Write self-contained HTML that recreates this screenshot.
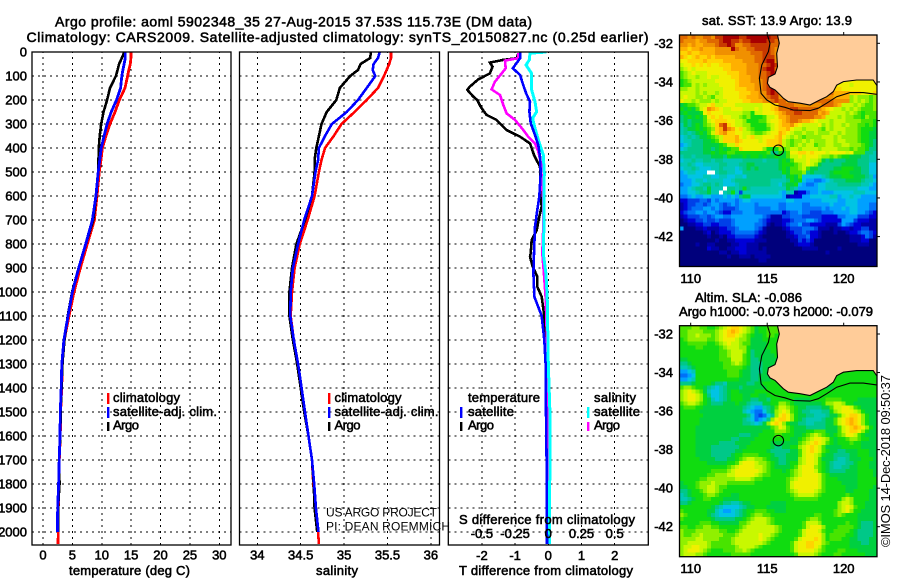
<!DOCTYPE html>
<html>
<head>
<meta charset="utf-8">
<title>Argo profile</title>
<style>
html,body{margin:0;padding:0;background:#fff;width:900px;height:580px;overflow:hidden}
svg{display:block}
text{font-family:"Liberation Sans",sans-serif;fill:#000;font-size:13px}
.t{stroke:#000;stroke-width:.55px;paint-order:stroke}
.thin{font-size:12px;stroke:none}
.line{fill:none;stroke-linejoin:miter;shape-rendering:crispEdges}
.frame{fill:none;stroke:#000;stroke-width:1.3}
.grid{stroke:#000;stroke-width:1;stroke-dasharray:2 4;shape-rendering:crispEdges}
</style>
</head>
<body>
<svg id="chart" xmlns="http://www.w3.org/2000/svg" width="900" height="580" viewBox="0 0 900 580">
<defs>
<clipPath id="c1"><rect x="32" y="52" width="199" height="493"/></clipPath>
<clipPath id="c2"><rect x="239.5" y="52" width="200" height="493"/></clipPath>
<clipPath id="c3"><rect x="448.3" y="52" width="200" height="493"/></clipPath>
<clipPath id="m1"><rect x="679.5" y="35" width="197.5" height="231.5"/></clipPath>
<clipPath id="m2"><rect x="679.5" y="325.7" width="197.5" height="231"/></clipPath>
</defs>
<g id="layer-maps"></g>
<g id="layer-grid"></g>
<g id="layer-lines"></g>
<g id="layer-ticks"></g>

<text class="t" x="55" y="26.5" style="font-size:14px" textLength="477" lengthAdjust="spacing">Argo profile: aoml 5902348_35 27-Aug-2015 37.53S 115.73E (DM data)</text>
<text class="t" x="26.5" y="42" style="font-size:14px" textLength="622" lengthAdjust="spacing">Climatology: CARS2009. Satellite-adjusted climatology: synTS_20150827.nc (0.25d earlier)</text>

<text class="t" x="69" y="575" textLength="121" lengthAdjust="spacing">temperature (deg C)</text>
<text class="t" x="316" y="575" textLength="42" lengthAdjust="spacing">salinity</text>
<text class="t" x="459" y="575" textLength="174" lengthAdjust="spacing">T difference from climatology</text>
<text class="t" x="459" y="524" textLength="176" lengthAdjust="spacing">S difference from climatology</text>

<g>
<rect x="107" y="393" width="2.4" height="11" fill="#f00"/>
<rect x="107" y="407" width="2.4" height="11" fill="#00f"/>
<rect x="107" y="422" width="2.4" height="9" fill="#000"/>
<text class="t" x="113" y="402" textLength="67" lengthAdjust="spacing">climatology</text>
<text class="t" x="113" y="416" textLength="104" lengthAdjust="spacing">satellite-adj. clim.</text>
<text class="t" x="113" y="429.5" textLength="26" lengthAdjust="spacing">Argo</text>
</g>
<g>
<rect x="328" y="393" width="2.4" height="11" fill="#f00"/>
<rect x="328" y="407" width="2.4" height="11" fill="#00f"/>
<rect x="328" y="422" width="2.4" height="9" fill="#000"/>
<text class="t" x="334.5" y="402" textLength="67" lengthAdjust="spacing">climatology</text>
<text class="t" x="334.5" y="416" textLength="104" lengthAdjust="spacing">satellite-adj. clim.</text>
<text class="t" x="334.5" y="429.5" textLength="26" lengthAdjust="spacing">Argo</text>
</g>
<g>
<text class="t" x="468" y="402" textLength="72" lengthAdjust="spacing">temperature</text>
<text class="t" x="594" y="402" textLength="42" lengthAdjust="spacing">salinity</text>
<rect x="460" y="407" width="2.4" height="11" fill="#00f"/>
<rect x="460" y="422" width="2.4" height="9" fill="#000"/>
<rect x="587" y="407" width="2.4" height="11" fill="#0ff"/>
<rect x="587" y="422" width="2.4" height="9" fill="#f0f"/>
<text class="t" x="468" y="416" textLength="46" lengthAdjust="spacing">satellite</text>
<text class="t" x="468" y="429.5" textLength="26" lengthAdjust="spacing">Argo</text>
<text class="t" x="594" y="416" textLength="46" lengthAdjust="spacing">satellite</text>
<text class="t" x="594" y="429.5" textLength="26" lengthAdjust="spacing">Argo</text>
</g>
<text class="thin" x="326" y="516.5" textLength="111" lengthAdjust="spacing">US ARGO PROJECT</text>
<text class="thin" x="326" y="530.5" textLength="124" lengthAdjust="spacing">PI: DEAN ROEMMICH</text>

<text class="t" x="702" y="25" textLength="150" lengthAdjust="spacing">sat. SST: 13.9 Argo: 13.9</text>
<text class="t" x="695" y="302" textLength="107" lengthAdjust="spacing">Altim. SLA: -0.086</text>
<text class="t" x="679" y="316" textLength="194" lengthAdjust="spacing">Argo h1000: -0.073 h2000: -0.079</text>
<text class="thin" style="font-size:13px" transform="translate(890,547) rotate(-90)" textLength="172" lengthAdjust="spacing">©IMOS 14-Dec-2018 09:50:37</text>
</svg>

<script>
// ---- profile data (depth in m) ----
const depthLevels = [0,25,50,75,100,150,200,250,300,350,400,450,500,600,700,800,900,1000,1100,1200,1300,1400,1500,1600,1700,1800,1900,2000,2050];
const tempClimatology = [14.97,14.95,14.85,14.6,14.4,13.95,13.0,12.25,11.4,10.7,10.1,9.87,9.58,9.19,8.74,7.54,6.35,5.27,4.42,3.63,3.29,3.18,3.0,2.95,2.78,2.72,2.61,2.6,2.55];
const tempSatellite = [14.0,14.0,13.8,13.6,13.4,13.2,12.5,11.6,10.9,10.4,9.9,9.65,9.4,9.0,8.4,7.26,6.07,5.0,4.25,3.55,3.2,3.1,2.95,2.9,2.75,2.65,2.5,2.45];
const tempArgo = [13.85,13.4,12.95,12.7,12.4,11.4,10.9,10.3,9.9,9.65,9.5,9.45,9.4,9.05,8.55,7.3,6.05,4.95,4.2,3.65,3.3,3.15,3.0,2.95,2.75,2.8,2.55,2.6];
const salClimatology = [35.54,35.54,35.52,35.49,35.46,35.39,35.26,35.12,34.97,34.88,34.78,34.74,34.71,34.66,34.58,34.49,34.43,34.40,34.385,34.42,34.47,34.5,34.54,34.59,34.63,34.645,34.67,34.70,34.71];
const salSatellite = [35.41,35.39,35.34,35.33,35.36,35.26,35.16,35.03,34.86,34.78,34.71,34.70,34.67,34.63,34.54,34.47,34.41,34.385,34.38,34.42,34.47,34.51,34.55,34.59,34.63,34.655,34.675,34.705];
const salArgo = [35.31,35.30,35.19,35.16,35.07,34.95,34.91,34.80,34.74,34.71,34.68,34.66,34.66,34.63,34.55,34.45,34.40,34.37,34.37,34.41,34.46,34.5,34.54,34.59,34.63,34.65,34.66,34.69];

// ---- difference panel data ----
const diffArgoDepth = [5,26,33,44,61,89,114,144,158,186,200,228,262,283,325,353,381,429,478,547,603,644,686,742,783,839,853,894,936,978,1020,1100,1200,1300,1500,2000];
const diffArgoT = [-0.90,-0.95,-1.36,-1.76,-1.68,-1.76,-2.11,-2.36,-2.44,-2.26,-2.14,-2.04,-1.86,-1.56,-1.26,-0.85,-0.55,-0.43,-0.25,-0.22,-0.23,-0.20,-0.27,-0.35,-0.50,-0.53,-0.55,-0.47,-0.33,-0.33,-0.20,-0.12,-0.10,-0.07,-0.05,-0.03];
const diffSatTDepth = [0,26,68,96,131,172,207,249,297,346,388,436,506,603,658,728,839,922,1020,1100,1200,1300,1500,1700,2050];
const diffSatT = [-0.85,-0.85,-1.07,-0.85,-0.77,-0.67,-0.55,-0.57,-0.53,-0.40,-0.30,-0.25,-0.23,-0.27,-0.33,-0.40,-0.43,-0.45,-0.42,-0.20,-0.12,-0.08,-0.07,-0.05,-0.04];
const diffArgoSDepth = [5,26,36,68,89,124,156,179,221,256,283,325,353,381,415,464,533,617,728,839,922,1020,1200,1500,2000];
const diffArgoS = [-0.226,-0.226,-0.326,-0.321,-0.351,-0.402,-0.427,-0.364,-0.339,-0.314,-0.251,-0.188,-0.151,-0.100,-0.075,-0.055,-0.05,-0.038,-0.038,-0.045,-0.033,-0.02,-0.01,-0.005,0];
const diffSatSDepth = [0,5,33,54,89,158,207,249,276,318,366,429,506,603,728,839,922,1020,1300,1500,1700,2000,2050];
const diffSatS = [-0.0125,-0.138,-0.143,-0.168,-0.126,-0.126,-0.10,-0.088,-0.118,-0.10,-0.075,-0.038,-0.03,-0.033,-0.033,-0.038,-0.018,-0.008,0,0.012,0.012,0.008,0.008];

// ---- tick labels ----
const depthTicks = [0,100,200,300,400,500,600,700,800,900,1000,1100,1200,1300,1400,1500,1600,1700,1800,1900,2000];
const tempTicks = [0,5,10,15,20,25,30];
const salTicks = [34,34.5,35,35.5,36];
const salTickLabels = ["34","34.5","35","35.5","36"];
const tDiffTicks = [-2,-1,0,1,2];
const sDiffTicks = [-0.5,-0.25,0,0.25,0.5];
const sDiffTickLabels = ["-0.5","-0.25","0","0.25","0.5"];
const lonTicks = [110,115,120];
const latTicks = [-32,-34,-36,-38,-40,-42];

// ---- coastline and float position (degrees) ----
const coastLon = [115.67,115.79,115.62,115.67,115.51,115.08,115.01,115.18,115.51,115.84,116.05,116.38,117.14,117.8,118.45,118.89,119.32,119.54,119.98,120.84,121.93,122.15,122.2];
const coastLat = [-31.57,-32.0,-32.52,-33.21,-33.59,-33.76,-34.07,-34.28,-34.41,-34.67,-34.84,-35.02,-35.1,-35.19,-34.93,-34.76,-34.5,-34.16,-33.98,-33.9,-33.9,-34.16,-34.16];
const shelfLon = [115.01,115.18,115.08,114.65,114.49,114.6,114.97,115.51,116.16,116.7,117.8,118.34,118.89,119.54,120.41,121.28,122.15];
const shelfLat = [-31.57,-32,-32.43,-33.12,-33.81,-34.59,-34.93,-35.19,-35.31,-35.45,-35.48,-35.36,-35.1,-34.76,-34.55,-34.55,-34.64];
const floatLon = 115.73;
const floatLat = -37.53;

// ---- map level grids: one base-36 colour level per cell, w is missing, | right-aligns the rest ----
const sstGrid = [
"iihihhiihjjkkkkjjkkkkkkjj|",
"ihhhghhiiijkkjjijjkkkkjji|",
"hhghgghhhijjkjhhiijjjjjii|",
"ggfgghggghhhhkihhiijjjjih|",
"ffgffgggghhhhhhhhhiiijjih|",
"gfefgffgfggggghhhhhiijjjh|",
"eeffffgffffggggghhhiijkkh|",
"deefefefeefffgggghhhiijkj|",
"cdedeeeeeeeffgggghhhijkki|",
"bcdedddeeeeefffgghhhiijkj|",
"bcddcddeddeeeffggghhiijkj|",
"abcddddddeeeeefggghhhijkj|geeeeeeeeee",
"abbdcdcdddeeeefgggghhijjh|gfeeedeeeeee",
"ccddcddddddeeefffgghhijkj|ggffeeeeeeeee",
"ddddcdcddcdeeeefffgghhjkjhhhhhhhhhhhhiiggggfffeeef",
"deddccdcbddeeeeffggghhijjhhiiiiiiiiihhhggggcdcccbc",
"eddcdcccdcddeeeeffggghhijiihhhiiiiiiiiihhhhcdcdcbc",
"9abbcddefddeeedddddddeeffiiiihhhhhhhiiihgdddcdcbbc",
"a9a9bdehgfeddeeedddedeefgiiijjiiiiihgfeddcdcdcbbbc",
"9a999aefeeedddddccaddeeefghiijjiiiighgddddcdcbabbb",
"89a9a9befefeeddcbcaaabddegghiiiiiihhgdddcdccbbacbb",
"898999bdefffeeddcaaabbdeefghiihggfedddcdddccccbbba",
"7989a9bcdfijfeddccaaaacdefgghfeddddecdcddcdccbbaba",
"7899a9abcfgjhgefdcbaaabdeffgeddcdddcbdcdddcccbaaa9",
"78789a9bdfghffeeddcbbcdeegfedccdccdcccddcdcccbaa99",
"6787899abcdfffgedefddeeefgedcdcbccccdddcdccccbaa99",
"67788899abdfffgfeeeedefffgdcbccdcdcccddcddcccbaa98",
"5678889999abddfeeeeeeefffgdcbcdcddbccddccddcccba98",
"6788889989a9abbfeeeeecaaacbcddcddddcddddcccbcbba88",
"88888899a9aabbaaaaaaaab88a9beeffefeeedeeeedebbb887",
"788788889998a999a9aa9a99a99bddedeeedccbcbaa9998877",
"67787788788777778888878889a9bdddeddc98988899988877",
"77876677778877788998888889aaabcdedc988888999988866",
"67787666778777678989888889a9bbcdb99888899aaa998866",
"5677666ww78877668888888888a9bbbc8988889aaaa9998866",
"5566667766776677688888888879a9b6666678999aaa999875",
"5556776777766788888888877778a9a65544567888999987766",
"45566788787666788888888776899a65445667778888887765",
"55678879777w8878a877777777798755555667777777766655",
"5566788977w78a737777777776577122455655566666777666",
"44565566555656589966666666512225566666775667665555",
"22333443545555456655555555566555555566665566655555",
"12334434554345455554555554455554455555655566655544",
"12344455454333455554444554455554444454555656655544",
"23445545543224445554444444234454433344455556655432",
"12333443455445555555543111334443333322224455533322",
"01223343343334555555432111223444554322222555322211",
"00112233223334555554431011234453322221113543221111",
"50001121112233455554310000123334443111011221223311",
"00000012012223444443210000012334322100010012234432",
"00000001001022333332100000011233422100000001112431",
"00000000010011222221110000001132320000000001112200",
"00001001100001122111000000000122210000000000011100",
"00000002110011222111010000000001111000001000000000",
"00000000001101122111110000000000000001000000000000",
"00000000000010011101111000000000000000000000000000",
"00000000000000000000110000000000000000000000000000",
"00000000000000000000000000000000000000000000000000"
];
const slaGrid = [
"bbbccbbaabcdeffedcb9aabbbaa|",
"bbccccbbbcdefgfedcb9aabbbaa|",
"bbccdcccbcdeffedcba99abbaaa|",
"abcccccbbcdeeedccb999aaaaa|",
"aabbbbbaabcdeddcbb9999aaaa|",
"aaaabbaaaabcdddcca9999aaa|",
"aaaaaaaaaabbcdddca89999aa|",
"aaaaaaaaaabbcdddba899999a|",
"99aaaaaaaabbbdddba8899999|",
"889aaaaaaaabbcdcba888999a|",
"7789aaaaaaabbbbba98889999|",
"5567aaaaaaaabbba99888999a|aaaaaaaaaaa",
"4456aaaaaaaabbba99889999a|aaaaaaaaaaaa",
"5567aaaaaaaaaaa99988999a|aaaaaaaaaaaaa",
"8889aaaa9887999998899aaa|aaaaaaaaaaaaaa",
"bccbaa9876789998999999aa|aaaa99aaaaaaaaaaa",
"cdedcb9766789aa9999aaaaa|9aaaaaaaaaaaaaaaaaaa",
"cdeedca866789aaa99aa99aaaaaa|aaaaaaaaaaaaaaaaaaaaa",
"cdeedca976789aaa9988998aaaaaa9999aaaabbbbaaaa99999",
"bcddcba9888999a99877799aaccba9999999accddcaa999999",
"abbbaa999999999987655789bddcba99888899bddeedba9999",
"aaaaa9999999999976544689cdedba98877788acdeeedca999",
"aaaaaa999999999998643468cefeca9988777899bdeffeca9999",
"aaaaa999999999998764568ceffeca987777899bdefgfeca999",
"aaaaa99999999999887679cefeca99887788899bdefgfeca999",
"aaaa9999999999999999999bcedba99988888999bdefgfeca9",
"aaaa99999999999999999aaacccba999aabbb999bdeffeca99",
"aaaa9999999999988899aaaabbaaa99abcdcba9abceedba999",
"aaaa999999999889999aaaaaaaaa99abcdeedca9aabccbaa99",
"aaaa99999988889999aaaaa9999999bcdefedba9aaabaa9999",
"aaaa9999888888899aaaaaa98899aacdefedb9999aaaaa9999",
"aaaa999988888899aaaaaa98888899bdefedba9988999aaa99",
"aaaa9999888889aabbbbaaa9888999bdeedca99888899aaa99",
"aaaaa999988899abcddccba9988999cdeedb9998778999aaa9",
"aaaaaaa99999aabdeeedccba9889aacdeedba98777889aaa99",
"aaaaaaaaaaaabcdeeeeddcba9999abdeeecba98778899aaa99",
"aaaaaaaabbbbcdeeeeeedcbaaa9abcdeeedba98888999aaaa9",
"aaaaaaabbcccddeeeeedcbbaaaaabcdeeeedba9999999aaaa9",
"aaaaabbcccccccddddcbbaaaaaabcdeeeeedbaaa99999aaaaa",
"9aaabcccdcccbbbbbbbaaaaaaaabdeeeeeedbaaaa9999aaaaa",
"99aabccddcbbaaaaaaaaaaaaaaabdeeeeeedbaaaaa999aaaa9",
"889aabcddcbaaaaaaaaaaaaaaaabcdeeeedcbaaaaa99aaaa99",
"789aaabccbaaa99aaaaaaaaaaaaabcddddcbaaaaaabaaaaa99",
"7789aabbaaa9999aaaaaaaaaaaaaabbbbbbaaaaaacdcaaaa99",
"889aaaaaaa98877899aaaaa9999aaaaaaaaaaaaacddcaaa999",
"aaaaaaaa98766667899aaa99999aaaaaaaaaaaaacdedbaa999",
"baaaaaa9976556789aabbbaa999aaaaaaaaaaaabcdecaa9999",
"cbaaaaa9876666789abccbbaaaaaaaaaaabbaaabcbaaa99999",
"baaaaaaa98888899abcdddcbaaaaaaaabccbaaaaaaaaa99999",
"aaaaabbbaa99999bbcddddcbaaaaaaabdddcaaaaaabaa98889",
"bbaabbccbbaaaaabcdddddddcbaaaaabdeeecaaabbbba98889",
"cbbbccccccbbaabcddddddddcbaaaabdeeedbaabbbba988889",
"cbbccdcccccbbbcdddddeddcbaaaaabdeeeecabbbbaa988889",
"ccccddccccbbbcddddddedcbaaaaabdeeefecabbbaa9988899",
"ccdddddcbbbbbcdddddddcbaaaaabdeeffeecbaaaaa9998899",
"cddeeddcbbbbbbcddddcbaaaaaaabdeeffedbaaaaaa9999999",
"cdeeedcbaaabbbccdcbaaaaaaaaabdeeeedcbaaabbaaa99999",
"cdddccbaaaaaabbbbbaaaaaaaaaaabddddcbaaabbaaaaaa999"
];

const SVGNS = "http://www.w3.org/2000/svg";
const levelColour = ["#00007c","#0000a8","#0000d8","#0040e8","#0070f8","#00a0ff","#00c4e4","#00c8b4","#00c888","#00d040","#10dc10","#48e400","#90f000","#c8f800","#f0f000","#ffd400","#ffb000","#f09000","#e06800","#c83800","#a80000"];
function el(tag, parent, attrs){
  const n = document.createElementNS(SVGNS, tag);
  for (const k in attrs) n.setAttribute(k, attrs[k]);
  parent.appendChild(n);
  return n;
}
// axis functions
const yDepth = d => 52 + d * 0.24;
const xTemp = v => 43 + v * 5.877;
const xSal = v => 257.3 + (v - 34) * 86.8;
const xTDiff = v => 548.3 + v * 33.2;
const xSDiff = v => 548.3 + v * 132.8;
const xLon = v => 690.7 + (v - 110) * 15.3;
const yLat1 = v => 43.3 + (-32 - v) * 19.33;
const yLat2 = v => 334 + (-32 - v) * 19.27;

const gMaps = document.getElementById("layer-maps");
const gGrid = document.getElementById("layer-grid");
const gLines = document.getElementById("layer-lines");
const gTicks = document.getElementById("layer-ticks");

function label(str, x, y, anchor, size){
  const t = el("text", gTicks, {x:x, y:y, "text-anchor":anchor, "class":"t"});
  
  
  t.style.fontSize = size + "px";
  t.textContent = str;
}
function series(parent, xs, ys, xf, colour, width, clip){
  const pts = xs.map((v, i) => xf(v).toFixed(1) + "," + yDepth(ys[i]).toFixed(1)).join(" ");
  const p = el("polyline", parent, {points:pts, "class":"line", stroke:colour, "stroke-width":width, "clip-path":"url(#" + clip + ")"});
  
  
}
function frame(x, y, w, h){
  const r = el("rect", gLines, {x:x, y:y, width:w, height:h, "class":"frame"});
  
  
}
function gridV(x, y0, y1){
  const l = el("line", gGrid, {x1:x, x2:x, y1:y1, y2:y0, "class":"grid"});
  
  
}
function gridH(y, x0, x1){
  const l = el("line", gGrid, {x1:x0, x2:x1, y1:y, y2:y, "class":"grid"});
  
  
}

// panel grids and tick labels
const panels = [[32,231],[239.5,439.5],[448.3,648.3]];
panels.forEach(p => depthTicks.slice(1).forEach(d => gridH(yDepth(d), p[0], p[1])));
tempTicks.forEach(v => { gridV(xTemp(v), 52, 545); label(String(v), xTemp(v), 559.5, "middle", 13); });
salTicks.forEach((v, i) => { gridV(xSal(v), 52, 545); label(salTickLabels[i], xSal(v), 559.5, "middle", 13); });
tDiffTicks.forEach(v => { gridV(xTDiff(v), 52, 545); label(String(v), xTDiff(v), 560, "middle", 13); });
sDiffTicks.forEach((v, i) => label(sDiffTickLabels[i], xSDiff(v), 538, "middle", 13));
depthTicks.forEach(d => label(String(d), 27, yDepth(d) + 4.5, "end", 13));

// profile series
series(gLines, tempClimatology, depthLevels, xTemp, "#f00", 2.8, "c1");
series(gLines, tempArgo, depthLevels, xTemp, "#000", 2.6, "c1");
series(gLines, tempSatellite, depthLevels, xTemp, "#00f", 2.8, "c1");
series(gLines, salClimatology, depthLevels, xSal, "#f00", 2.6, "c2");
series(gLines, salArgo, depthLevels, xSal, "#000", 2.6, "c2");
series(gLines, salSatellite, depthLevels, xSal, "#00f", 2.6, "c2");
series(gLines, diffArgoT, diffArgoDepth, xTDiff, "#000", 2.6, "c3");
series(gLines, diffArgoS, diffArgoSDepth, xSDiff, "#f0f", 2.6, "c3");
series(gLines, diffSatS, diffSatSDepth, xSDiff, "#0ff", 3, "c3");
series(gLines, diffSatT, diffSatTDepth, xTDiff, "#00f", 2.6, "c3");
frame(32, 52, 199, 493);
frame(239.5, 52, 200, 493);
frame(448.3, 52, 200, 493);

// heat maps
function drawMap(grid, top, height, clip, bg, yLat, name){
  const g = el("g", gMaps, {"clip-path":"url(#" + clip + ")"});
  
  
  const cw = 197.5 / 50, ch = height / grid.length;
  const base = el("rect", g, {x:679.5, y:top, width:197.5, height:height, fill:bg});
  
  
  grid.forEach((row, r) => {
    const parts = row.split("|");
    const cells = [];
    [...parts[0]].forEach((c, i) => cells.push([i, c]));
    if (parts.length > 1) { const s = 50 - parts[1].length; [...parts[1]].forEach((c, i) => cells.push([s + i, c])); }
    cells.forEach(([col, c]) => {
      if (col >= 50) return;
      const fill = c === "w" ? "#fff" : levelColour[parseInt(c, 36)];
      const cell = el("rect", g, {x:(679.5 + col * cw).toFixed(2), y:(top + r * ch).toFixed(2), width:(cw + .3).toFixed(2), height:(ch + .3).toFixed(2), fill:fill, "shape-rendering":"crispEdges"});
      
      
    });
  });
  const land = coastLon.map((v, i) => xLon(v).toFixed(1) + "," + yLat(coastLat[i]).toFixed(1)).join(" ");
  const topY = top - 2;
  const landPoly = el("polygon", g, {points:land + " 879," + yLat(-34.16).toFixed(1) + " 879," + topY + " " + xLon(coastLon[0]).toFixed(1) + "," + topY, fill:"#ffcc99"});
  
  
  const coastLine = el("polyline", g, {points:land, fill:"none", stroke:"#000", "stroke-width":1.1});
  
  
  const shelf = el("polyline", g, {points:shelfLon.map((v, i) => xLon(v).toFixed(1) + "," + yLat(shelfLat[i]).toFixed(1)).join(" "), fill:"none", stroke:"#000", "stroke-width":1.1});
  
  
  const dot = el("circle", g, {cx:xLon(floatLon), cy:yLat(floatLat), r:5.2, fill:"none", stroke:"#000", "stroke-width":1.1});
  
  

  const box = el("rect", gMaps, {x:679.5, y:top, width:197.5, height:height, "class":"frame"});
  
  
  lonTicks.forEach(v => {
    const tk = el("line", gMaps, {x1:xLon(v), x2:xLon(v), y1:top - 3, y2:top, stroke:"#000", "stroke-width":1});
    
    
    label(String(v), xLon(v), top + height + 16.5, "middle", 13);
  });
  latTicks.forEach(v => {
    const tk = el("line", gMaps, {x1:877, x2:880, y1:yLat(v), y2:yLat(v), stroke:"#000", "stroke-width":1});
    
    
    label(String(v), 673, yLat(v) + 4.5, "end", 13);
  });
}
drawMap(sstGrid, 35, 231.5, "m1", "#00007c", yLat1, "sst-map");
drawMap(slaGrid, 325.7, 231, "m2", "#10dc10", yLat2, "sla-map");
</script>
</body>
</html>
